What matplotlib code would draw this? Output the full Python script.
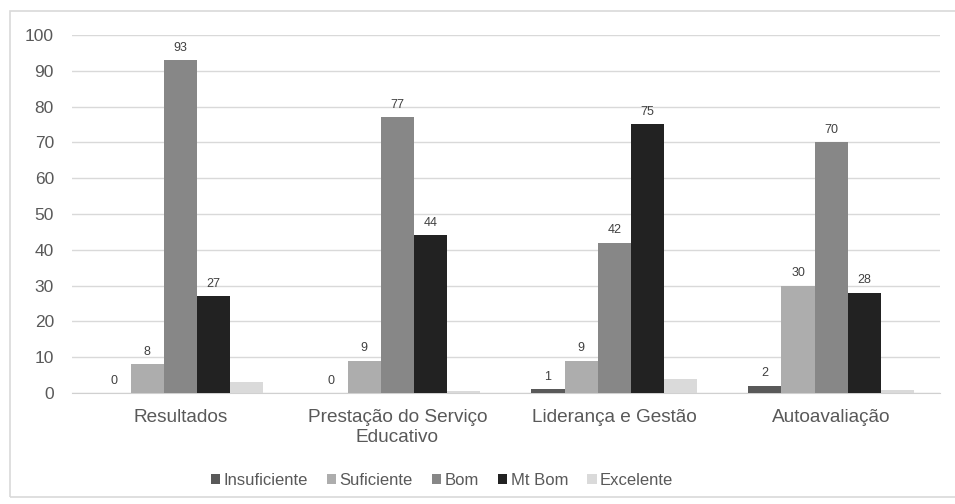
import numpy as np
import matplotlib.pyplot as plt
from matplotlib.patches import Rectangle

plt.rcParams['font.family'] = ['Liberation Sans', 'DejaVu Sans']

categories = ['Resultados', 'Prestação do Serviço\nEducativo', 'Liderança e Gestão', 'Autoavaliação']
series = ['Insuficiente', 'Suficiente', 'Bom', 'Mt Bom', 'Excelente']
insuficiente = [0, 0, 1, 2]
suficiente = [8, 9, 9, 30]
bom = [93, 77, 42, 70]
mt_bom = [27, 44, 75, 28]
excelente = [3, 0.6, 4, 0.8]
colors = ['#595959', '#adadad', '#878787', '#222222', '#dadada']
labelled = [True, True, True, True, False]

values = [insuficiente, suficiente, bom, mt_bom, excelente]

fig = plt.figure(figsize=(9.55, 5.04), dpi=100)
ax = fig.add_axes([0.0754, 0.2202, 0.9086, 0.7104])

# light frame around the whole chart (right edge runs off the canvas)
fig.patches.append(Rectangle((10 / 955, 7 / 504), 960 / 955, 486 / 504,
                             transform=fig.transFigure, fill=False,
                             edgecolor='#d9d9d9', linewidth=1.2))

x = np.arange(len(categories))
width = 0.153
for i, (name, vals) in enumerate(zip(series, values)):
    pos = x + (i - 2) * width
    bars = ax.bar(pos, vals, width, color=colors[i], label=name, zorder=3)
    if labelled[i]:
        for b, v in zip(bars, vals):
            ax.annotate(f'{v:g}', (b.get_x() + b.get_width() / 2, v),
                        xytext=(0, 9), textcoords='offset points',
                        ha='center', va='center', fontsize=9, color='#404040')

ax.set_ylim(0, 100)
ax.set_xlim(-0.5, 3.5)
ax.set_yticks(range(0, 101, 10))
ax.set_xticks(x)
ax.set_xticklabels([])
# category names drawn as centred text so wrapped lines stay centred
for xi, name in zip(x, categories):
    ax.annotate(name, (xi, 0), xycoords=('data', 'axes fraction'),
                xytext=(0, -11.5), textcoords='offset points',
                ha='center', va='top', multialignment='center',
                fontsize=13.7, color='#595959')
ax.yaxis.grid(True, color='#d9d9d9', linewidth=1, zorder=0)
ax.tick_params(axis='both', length=0, colors='#595959')
ax.tick_params(axis='y', pad=13, labelsize=12.5)
for side in ['top', 'right', 'left']:
    ax.spines[side].set_visible(False)
ax.spines['bottom'].set_color('#d0d0d0')

fig.legend(loc='center', bbox_to_anchor=(0.463, 0.046), ncol=5, frameon=False,
           fontsize=12, handlelength=0.55, handleheight=0.55, handletextpad=0.2,
           columnspacing=1.15, labelcolor='#595959')

fig.savefig('out.png', dpi=100)
